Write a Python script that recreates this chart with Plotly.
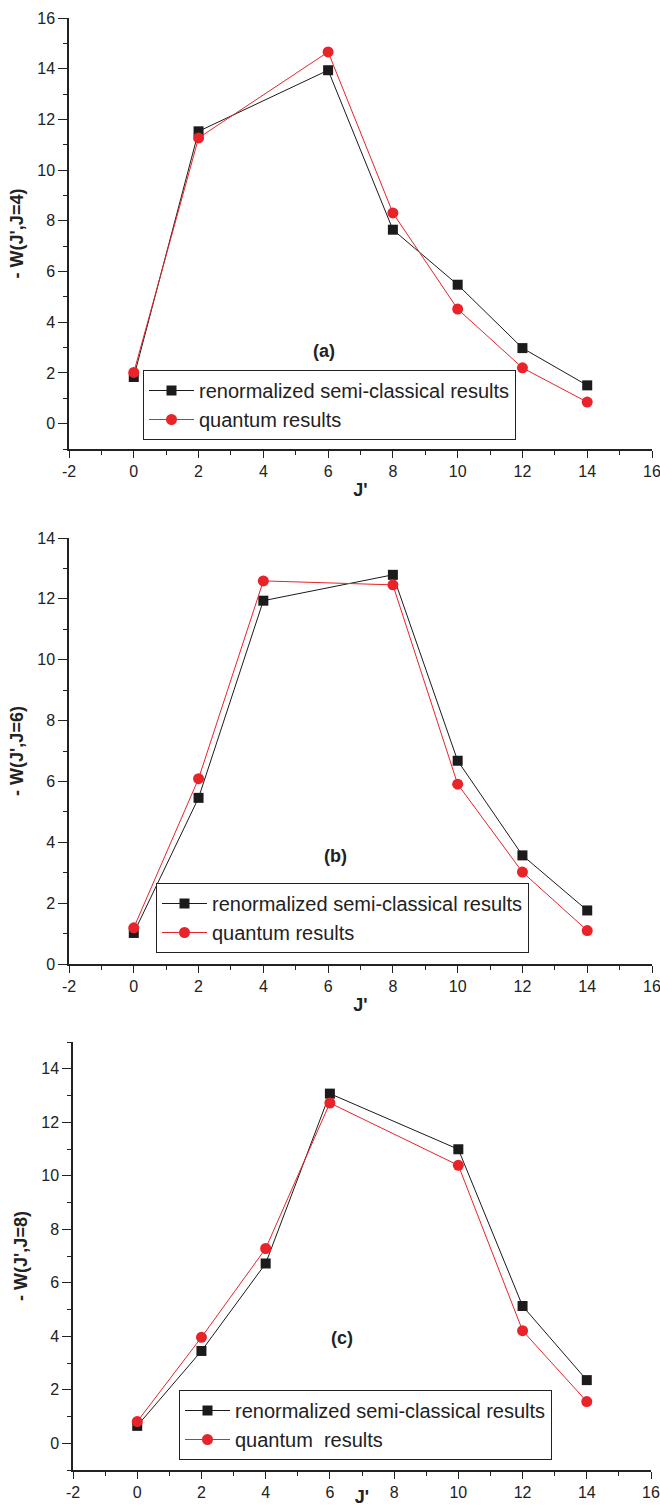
import plotly.graph_objects as go

# ---- data ----
J_a = [0, 2, 6, 8, 10, 12, 14]
semi_a = [1.84, 11.53, 13.94, 7.65, 5.48, 2.98, 1.51]
quant_a = [2.02, 11.27, 14.66, 8.31, 4.52, 2.20, 0.85]

J_b = [0, 2, 4, 8, 10, 12, 14]
semi_b = [1.02, 5.46, 11.94, 12.79, 6.68, 3.57, 1.76]
quant_b = [1.19, 6.09, 12.59, 12.46, 5.91, 3.02, 1.10]

J_c = [0, 2, 4, 6, 10, 12, 14]
semi_c = [0.65, 3.45, 6.72, 13.07, 10.99, 5.13, 2.36]
quant_c = [0.81, 3.96, 7.28, 12.72, 10.39, 4.21, 1.56]

x_tickvals = [-2, 0, 2, 4, 6, 8, 10, 12, 14, 16]
x_ticktext = ["-2", "0", "2", "4", "6", "8", "10", "12", "14", "16"]

semi_name = "renormalized semi-classical results"
quant_names = ["quantum results", "quantum results", "quantum\u00a0\u00a0results"]
panel_labels = ["(a)", "(b)", "(c)"]
y_titles = ["- W(J',J=4)", "- W(J',J=6)", "- W(J',J=8)"]
x_title = "J'"

BLACK = "#1c1a1a"
RED = "#e8232a"
AX = "#222222"
FONT = "Liberation Sans, Arial, sans-serif"
H = 1507.0
W = 660.0

panels = [
    dict(J=J_a, s=semi_a, q=quant_a, xdom=(69, 652), ytop=18, ybot=449, yr=(-1, 16),
         leg=(143, 405), lab=(324, 339)),
    dict(J=J_b, s=semi_b, q=quant_b, xdom=(69, 652), ytop=538, ybot=964, yr=(0, 14),
         leg=(156, 918), lab=(335, 856)),
    dict(J=J_c, s=semi_c, q=quant_c, xdom=(73, 651), ytop=1042, ybot=1470, yr=(-1, 15),
         leg=(179, 1425), lab=(342, 1350)),
]

fig = go.Figure()
layout = dict(width=660, height=1507, margin=dict(l=0, r=0, t=0, b=0),
              paper_bgcolor="white", plot_bgcolor="white",
              font=dict(family=FONT, color=AX))
annotations = []

for i, p in enumerate(panels):
    k = "" if i == 0 else str(i + 1)
    xa, ya = "x" + k, "y" + k
    leg = "legend" + k
    fig.add_trace(go.Scatter(x=p["J"], y=p["s"], xaxis=xa, yaxis=ya, mode="lines+markers",
                             name=semi_name, legend=leg,
                             line=dict(color=BLACK, width=1),
                             marker=dict(symbol="square", size=10, color=BLACK)))
    fig.add_trace(go.Scatter(x=p["J"], y=p["q"], xaxis=xa, yaxis=ya, mode="lines+markers",
                             name=quant_names[i], legend=leg,
                             line=dict(color=RED, width=1),
                             marker=dict(symbol="circle", size=11, color=RED)))
    x0, x1 = p["xdom"]
    layout["xaxis" + k] = dict(
        domain=[x0 / W, x1 / W], anchor=ya, range=[-2, 16], automargin=False,
        tickmode="array", tickvals=x_tickvals, ticktext=x_ticktext,
        ticklabeloverflow="allow",
        showline=True, linecolor=AX, linewidth=1.5, mirror=False,
        ticks="outside", ticklen=7, tickwidth=1.3, tickcolor=AX,
        minor=dict(dtick=1, tick0=0, ticks="outside", ticklen=4, tickwidth=1.1, tickcolor=AX),
        showgrid=False, zeroline=False,
        tickfont=dict(size=16, family=FONT, color=AX),
        title=dict(text=x_title, standoff=4,
                   font=dict(size=18, family=FONT, weight="bold", color=AX)))
    layout["yaxis" + k] = dict(
        domain=[1 - p["ybot"] / H, 1 - p["ytop"] / H], anchor=xa, range=list(p["yr"]),
        dtick=2, tick0=0, automargin=False, ticklabeloverflow="allow",
        showline=True, linecolor=AX, linewidth=1.5, mirror=False,
        ticks="outside", ticklen=9, tickwidth=1.3, tickcolor=AX,
        minor=dict(dtick=1, tick0=0, ticks="outside", ticklen=4, tickwidth=1.1, tickcolor=AX),
        showgrid=False, zeroline=False,
        tickfont=dict(size=16, family=FONT, color=AX),
        title=dict(text=y_titles[i], standoff=9,
                   font=dict(size=18, family=FONT, weight="bold", color=AX)))
    lx, ly = p["leg"]
    layout[leg] = dict(x=lx / W, y=1 - ly / H, xanchor="left", yanchor="middle",
                       xref="paper", yref="paper",
                       bgcolor="white", bordercolor=AX, borderwidth=1,
                       font=dict(size=20, family=FONT, color=AX),
                       itemwidth=45, tracegroupgap=0)
    annotations.append(dict(x=p["lab"][0] / W, y=1 - p["lab"][1] / H, xref="paper", yref="paper",
                            text=panel_labels[i], showarrow=False,
                            font=dict(size=18, family=FONT, weight="bold", color=AX)))

layout["annotations"] = annotations
layout["showlegend"] = True
fig.update_layout(**layout)
fig.write_html("out.html")
